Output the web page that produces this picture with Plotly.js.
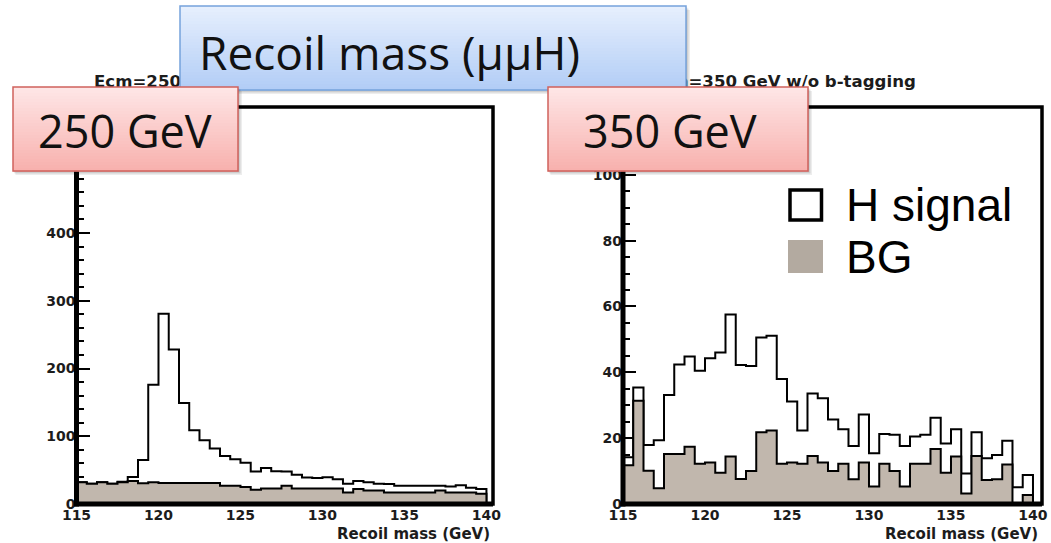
<!DOCTYPE html>
<html>
<head>
<meta charset="utf-8">
<script src="https://cdn.plot.ly/plotly-3.0.1.min.js"></script>
<style>
  html, body { margin: 0; padding: 0; background: #fff; }
  #chart { width: 1051px; height: 543px; }
</style>
</head>
<body>
<div id="chart"></div>
<script>
// Recoil mass histograms: 40 bins of 0.625 GeV from 115 to 140 GeV
const massLow = 115;
const massHigh = 140;

// Ecm = 250 GeV (events per bin)
const bg250  = [32, 30, 32, 30, 32, 34, 30.5, 32, 31, 31, 31, 31, 31, 31, 27, 27, 25, 21, 23, 23,
                27, 23, 23, 23, 23, 23, 17, 22, 20, 20, 17, 17, 17, 17, 17, 20, 17, 17, 17, 15];
const sig250 = [0, 0, 0, 0, 1, 6, 34.5, 144, 250, 197, 118, 78, 63, 51, 44, 39, 36, 27, 30, 25.5,
                21, 20, 16, 15.5, 16.5, 13.5, 13, 12, 12, 10, 12.5, 10, 10, 10, 10, 7, 9, 10.5, 7, 7];

// Ecm = 350 GeV (events per bin)
const bg350  = [11.8, 31.4, 10.1, 4.8, 15.2, 15.2, 17.4, 12.2, 12.6, 9.5, 14.4, 7.6, 10, 21.8, 22.3, 12.2, 12.6, 12.2, 14.6, 12.6,
                10, 12.2, 7.5, 12.6, 5.3, 12.2, 10, 5.3, 12.2, 12.2, 16.7, 9.5, 14.4, 3.2, 14.6, 7.3, 7.5, 12, 0, 2.7];
const sig350 = [2.4, 4.0, 7.8, 14.6, 17.9, 27.2, 27.4, 28.3, 31.7, 36.5, 43.2, 34.6, 31.9, 28.8, 28.8, 25.8, 18.5, 10.1, 19.0, 19.5,
                15.7, 10.5, 10.1, 14.6, 10.1, 9.1, 11.0, 12.3, 8.3, 8.8, 9.5, 8.9, 8.3, 6.1, 7.2, 6.6, 7.4, 7.2, 5.1, 6.1];

const massTicks = [115, 120, 125, 130, 135, 140];
const panelTitles = ['Ecm=250 GeV w/o b-tagging', 'Ecm=350 GeV w/o b-tagging'];
const energyLabels = ['250 GeV', '350 GeV'];
const seriesNames = ['H signal', 'BG'];

const W = 1051, H = 543;
const px = v => v / W;
const py = v => 1 - v / H;

// Histogram outline as a step path closed down to zero at both ends
function stepXY(counts) {
  const w = (massHigh - massLow) / counts.length;
  const x = [massLow], y = [0];
  counts.forEach((c, i) => { x.push(massLow + i * w); y.push(c); });
  x.push(massHigh, massHigh);
  y.push(counts[counts.length - 1], 0);
  return { x, y };
}

const bgFill = '#c1b7ad';

function histTraces(sig, bg, xa, ya) {
  const total = sig.map((s, i) => s + bg[i]);
  const t = stepXY(total), b = stepXY(bg);
  return [
    { type: 'scatter', mode: 'lines', x: t.x, y: t.y, xaxis: xa, yaxis: ya, name: seriesNames[0],
      line: { shape: 'hv', color: '#000', width: 2 }, fill: 'tozeroy', fillcolor: '#ffffff', hoverinfo: 'skip' },
    { type: 'scatter', mode: 'lines', x: b.x, y: b.y, xaxis: xa, yaxis: ya, name: seriesNames[1],
      line: { shape: 'hv', color: '#000', width: 2 }, fill: 'tozeroy', fillcolor: bgFill, hoverinfo: 'skip' }
  ];
}

const data = [
  ...histTraces(sig250, bg250, 'x', 'y'),
  ...histTraces(sig350, bg350, 'x2', 'y2')
];

const tickFont = { family: 'DejaVu Sans', size: 14, color: '#1c1c1c', weight: 'bold' };

function xAxis(domain, range, anchor) {
  return {
    domain, range, anchor,
    tickmode: 'array', tickvals: massTicks, ticktext: massTicks.map(String),
    ticks: 'inside', ticklen: 9, tickwidth: 2, tickcolor: '#000',
    minor: { dtick: 1, tick0: 115, ticks: 'inside', ticklen: 5, tickwidth: 2, tickcolor: '#000' },
    showgrid: false, zeroline: false, showline: false, layer: 'below traces',
    tickfont: tickFont, ticklabelstandoff: 1, fixedrange: true
  };
}
function yAxis(domain, range, anchor, major, minor) {
  return {
    domain, range, anchor,
    tick0: 0, dtick: major,
    ticks: 'inside', ticklen: 13, tickwidth: 2, tickcolor: '#000',
    minor: { dtick: minor, tick0: 0, ticks: 'inside', ticklen: 7, tickwidth: 2, tickcolor: '#000' },
    showgrid: false, zeroline: false, showline: false, layer: 'below traces',
    tickfont: tickFont, fixedrange: true
  };
}

const yDom = [py(504), py(107)];

// ---- overlay decorations (frames, titles, callout boxes, legend) ----
const shapes = [];

// plot frames: thin box plus heavy left / bottom axis lines
[['x', 'y'], ['x2', 'y2']].forEach(([xa, ya]) => {
  const xr = xa + ' domain', yr = ya + ' domain';
  shapes.push({ type: 'rect', xref: xr, yref: yr, x0: 0, x1: 1, y0: 0, y1: 1,
                line: { color: '#000', width: 3.5 }, layer: 'above' });
  shapes.push({ type: 'line', xref: xr, yref: yr, x0: 0, x1: 0, y0: -0.006, y1: 1,
                line: { color: '#000', width: 5 }, layer: 'above' });
  shapes.push({ type: 'line', xref: xr, yref: yr, x0: -0.006, x1: 1, y0: 0, y1: 0,
                line: { color: '#000', width: 5 }, layer: 'above' });
});

// panel titles (sit underneath the callout boxes)
const titleFont = { family: 'DejaVu Sans', size: 16.6, color: '#1c1c1c', weight: 'bold' };
[[91, panelTitles[0]], [647, panelTitles[1]]].forEach(([x, txt]) => {
  shapes.push({ type: 'rect', xref: 'paper', yref: 'paper',
                x0: px(x), x1: px(x + 300), y0: py(92), y1: py(68),
                line: { width: 0 }, fillcolor: 'rgba(0,0,0,0)', layer: 'above',
                label: { text: txt, font: titleFont, textposition: 'middle left', padding: 0 } });
});

function hexToRgb(h) {
  const n = parseInt(h.slice(1), 16);
  return [(n >> 16) & 255, (n >> 8) & 255, n & 255];
}
function mix(a, b, t) {
  const A = hexToRgb(a), B = hexToRgb(b);
  return 'rgb(' + A.map((v, i) => Math.round(v + (B[i] - v) * t)).join(',') + ')';
}

// callout box with vertical gradient, soft drop shadow and border
function calloutBox(x0, y0, x1, y1, top, bottom, border) {
  [[4, 0.07], [2.5, 0.1], [1.2, 0.12]].forEach(([off, a]) => {
    shapes.push({ type: 'rect', xref: 'paper', yref: 'paper',
                  x0: px(x0 + off * 0.6), x1: px(x1 + off), y0: py(y1 + off), y1: py(y0 + off),
                  line: { width: 0 }, fillcolor: 'rgba(0,0,0,' + a + ')', layer: 'above' });
  });
  const n = 28, h = (y1 - y0) / n;
  for (let i = 0; i < n; i++) {
    shapes.push({ type: 'rect', xref: 'paper', yref: 'paper',
                  x0: px(x0), x1: px(x1), y0: py(y0 + (i + 1) * h + 0.5), y1: py(y0 + i * h),
                  line: { width: 0 }, fillcolor: mix(top, bottom, i / (n - 1)), layer: 'above' });
  }
  shapes.push({ type: 'rect', xref: 'paper', yref: 'paper',
                x0: px(x0), x1: px(x1), y0: py(y1), y1: py(y0),
                line: { color: border, width: 1.5 }, fillcolor: 'rgba(0,0,0,0)', layer: 'above' });
}

calloutBox(180, 6, 686, 90, '#e6effd', '#b2cdf6', '#76a2db');
calloutBox(13, 87, 238, 171, '#fee6e6', '#f8b1ae', '#cf625c');
calloutBox(548, 87, 808, 171, '#fee6e6', '#f8b1ae', '#cf625c');

// legend swatches
shapes.push({ type: 'rect', xref: 'paper', yref: 'paper',
              x0: px(790), x1: px(821.5), y0: py(220), y1: py(190),
              line: { color: '#000', width: 3.5 }, fillcolor: '#fff', layer: 'above' });
shapes.push({ type: 'rect', xref: 'paper', yref: 'paper',
              x0: px(788), x1: px(823), y0: py(273), y1: py(240),
              line: { width: 0 }, fillcolor: '#b3aaa0', layer: 'above' });

const slideFont = { family: 'Open Sans, Lato, sans-serif', color: '#111' };
const annotations = [
  { text: 'Recoil mass (GeV)', x: px(492), y: py(534), xanchor: 'right', yanchor: 'middle',
    xref: 'paper', yref: 'paper', showarrow: false, font: { ...titleFont, size: 15 } },
  { text: 'Recoil mass (GeV)', x: px(1040), y: py(534), xanchor: 'right', yanchor: 'middle',
    xref: 'paper', yref: 'paper', showarrow: false, font: { ...titleFont, size: 15 } },
  { text: 'Recoil mass (\u03bc\u03bcH)', x: px(197), y: py(52), xanchor: 'left', yanchor: 'middle',
    xref: 'paper', yref: 'paper', showarrow: false, font: { ...slideFont, size: 46 } },
  { text: energyLabels[0], x: px(125), y: py(131), xanchor: 'center', yanchor: 'middle',
    xref: 'paper', yref: 'paper', showarrow: false, font: { ...slideFont, size: 45 } },
  { text: energyLabels[1], x: px(670), y: py(131), xanchor: 'center', yanchor: 'middle',
    xref: 'paper', yref: 'paper', showarrow: false, font: { ...slideFont, size: 45 } },
  { text: seriesNames[0], x: px(844), y: py(205), xanchor: 'left', yanchor: 'middle',
    xref: 'paper', yref: 'paper', showarrow: false, font: { family: 'Liberation Sans', size: 46, color: '#000' } },
  { text: seriesNames[1], x: px(844), y: py(257), xanchor: 'left', yanchor: 'middle',
    xref: 'paper', yref: 'paper', showarrow: false, font: { family: 'Liberation Sans', size: 46, color: '#000' } }
];

const layout = {
  width: W, height: H,
  margin: { l: 0, r: 0, t: 0, b: 0, pad: 0 },
  paper_bgcolor: '#ffffff', plot_bgcolor: 'rgba(0,0,0,0)',
  showlegend: false,
  xaxis: xAxis([px(76.5), px(493)], [115, 140.4], 'y'),
  yaxis: yAxis(yDom, [0, 586], 'x', 100, 20),
  xaxis2: xAxis([px(623), px(1042)], [115, 140.55], 'y2'),
  yaxis2: yAxis(yDom, [0, 120.6], 'x2', 20, 5),
  shapes, annotations
};

Plotly.newPlot('chart', data, layout, { staticPlot: true, displayModeBar: false });
</script>
</body>
</html>
